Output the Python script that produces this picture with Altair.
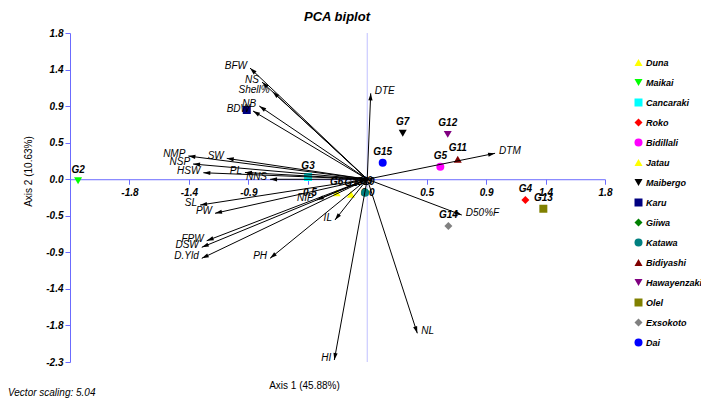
import math
import altair as alt
import pandas as pd

# ---------------- data ----------------
geno_ids = ["G1", "G2", "G3", "G4", "G5", "G6", "G7", "G8", "G9", "G10",
            "G11", "G12", "G13", "G14", "G15"]
geno_names = ["Duna", "Maikai", "Cancaraki", "Roko", "Bidillali", "Jatau",
              "Maibergo", "Karu", "Giiwa", "Katawa", "Bidiyashi",
              "Hawayenzaki", "Olel", "Exsokoto", "Dai"]
geno_x = [-0.125, -2.223, -0.455, 1.216, 0.562, -0.235, 0.273, -0.926,
          -0.010, -0.017, 0.696, 0.619, 1.354, 0.624, 0.119]
geno_y = [-0.189, -0.020, 0.028, -0.260, 0.156, -0.169, 0.574, 0.865,
          -0.160, -0.169, 0.249, 0.561, -0.369, -0.585, 0.206]
geno_colors = ["#FFFF00", "#00FF00", "#00FFFF", "#FF0000", "#FF00FF",
               "#FFFF00", "#000000", "#000080", "#008000", "#008080",
               "#800000", "#800080", "#808000", "#808080", "#0000FF"]
geno_shapes = ["triangle-up", "triangle-down", "square", "diamond", "circle",
               "triangle-up", "triangle-down", "square", "diamond", "circle",
               "triangle-up", "triangle-down", "square", "diamond", "circle"]
# labels hidden under the variable labels in the reference
hidden_geno_labels = ["G8"]

var_names = ["BFW", "NS", "Shell%", "NB", "BDW", "NMP", "SW", "NSP", "HSW",
             "PL", "NNS", "NIP", "SL", "PW", "FPW", "DSW", "D.Yld", "IL",
             "PH", "DTE", "DTM", "D50%F", "HI", "NL"]
var_x = [-0.901, -0.809, -0.727, -0.830, -0.878, -1.375, -1.080, -1.339,
         -1.260, -0.940, -0.747, -0.388, -1.285, -1.170, -1.234, -1.272,
         -1.272, -0.248, -0.747, 0.027, 0.983, 0.727, -0.253, 0.385]
var_y = [1.390, 1.215, 1.094, 0.915, 0.853, 0.290, 0.261, 0.190, 0.081,
         0.084, -0.001, -0.260, -0.323, -0.426, -0.769, -0.851, -0.989,
         -0.510, -0.989, 1.074, 0.324, -0.448, -2.260, -1.926]

tick_values = [-2.285, -1.828, -1.371, -0.914, -0.457, 0.0, 0.457, 0.914,
               1.371, 1.828]
axis1_title = "Axis 1 (45.88%)"
axis2_title = "Axis 2 (10.63%)"
chart_title = "PCA biplot"
vector_scaling = "Vector scaling: 5.04"

# ---------------- layout ----------------
W, H = 535, 329
dmin, dmax = tick_values[0], tick_values[-1]
kx = W / (dmax - dmin)
ky = H / (dmax - dmin)
FONT = "Liberation Sans"
AXIS_BLUE = "#6b6bff"

geno = pd.DataFrame({"id": geno_ids, "name": geno_names,
                     "x": geno_x, "y": geno_y})
geno["showlab"] = [0 if g in hidden_geno_labels else 1 for g in geno_ids]
vec = pd.DataFrame({"var": var_names, "x": var_x, "y": var_y})
vec["ox"] = 0.0
vec["oy"] = 0.0
vec["ang"] = [math.degrees(math.atan2(a * kx, b * ky)) % 360
              for a, b in zip(var_x, var_y)]

label_expr = "(datum.value < 0 ? '-' : '') + format(abs(datum.value), '.1f')"

xscale = alt.Scale(domain=[dmin, dmax], nice=False, zero=False)
yscale = alt.Scale(domain=[dmin, dmax], nice=False, zero=False)

zero_px_from_bottom = H - dmax * ky

xaxis = alt.Axis(values=tick_values[1:], labelExpr=label_expr,
                 orient="bottom", offset=-zero_px_from_bottom,
                 domainColor=AXIS_BLUE, tickColor=AXIS_BLUE, tickSize=5,
                 labelFont=FONT, labelFontSize=10, labelFontWeight="bold",
                 labelFontStyle="italic", labelColor="black", labelPadding=3,
                 labelFlush=False, labelOverlap=False, grid=False,
                 title=axis1_title, titleFont=FONT, titleFontSize=10,
                 titleFontWeight="normal", titleColor="black",
                 titleX=234, titleY=206, titleBaseline="middle",
                 titleAlign="center")
yaxis = alt.Axis(values=tick_values, labelExpr=label_expr,
                 domainColor=AXIS_BLUE, tickColor=AXIS_BLUE, tickSize=5,
                 labelFont=FONT, labelFontSize=10, labelFontWeight="bold",
                 labelFontStyle="italic", labelColor="black", labelPadding=2,
                 labelFlush=False, labelOverlap=False, grid=False,
                 title=axis2_title, titleFont=FONT, titleFontSize=10,
                 titleFontWeight="normal", titleColor="black",
                 titleX=-42, titleY=138, titleBaseline="middle",
                 titleAlign="center")


def X(f):
    return alt.X(f"{f}:Q", scale=xscale, axis=xaxis)


def Y(f):
    return alt.Y(f"{f}:Q", scale=yscale, axis=yaxis)


zero_line = alt.Chart(pd.DataFrame({"z": [0.0]})).mark_rule(
    color="#c0c0ff", strokeWidth=1).encode(x=X("z"))

leg = alt.Legend(title=None, orient="none", legendX=564, legendY=25,
                 symbolSize=64, symbolStrokeWidth=0, labelFont=FONT,
                 labelFontSize=9, labelFontWeight="bold",
                 labelFontStyle="italic", labelColor="black",
                 rowPadding=10, labelOffset=3, padding=0, labelLimit=0)

points = alt.Chart(geno).mark_point(filled=True, size=64, opacity=1).encode(
    x=X("x"), y=Y("y"),
    color=alt.Color("name:N", scale=alt.Scale(domain=geno_names,
                                              range=geno_colors), legend=leg),
    shape=alt.Shape("name:N", scale=alt.Scale(domain=geno_names,
                                              range=geno_shapes), legend=leg),
)

shafts = alt.Chart(vec).mark_rule(color="black", strokeWidth=1).encode(
    x=X("ox"), y=Y("oy"), x2=alt.X2("x"), y2=alt.Y2("y"))

HEAD = "M0,0L0.3,1L-0.3,1Z"
heads = alt.Chart(vec).mark_point(shape=HEAD, filled=True, size=196,
                                  color="black", opacity=1).encode(
    x=X("x"), y=Y("y"), angle=alt.Angle("ang:Q", scale=None))

vlab_left = alt.Chart(vec).transform_filter("datum.x < 0").mark_text(
    font=FONT, fontSize=10, fontStyle="italic", align="right",
    baseline="middle", dx=-3, dy=-2, color="black").encode(
    x=X("x"), y=Y("y"), text="var:N")
vlab_right = alt.Chart(vec).transform_filter("datum.x >= 0").mark_text(
    font=FONT, fontSize=10, fontStyle="italic", align="left",
    baseline="middle", dx=4, dy=-2, color="black").encode(
    x=X("x"), y=Y("y"), text="var:N")

glab = alt.Chart(geno).transform_filter("datum.showlab == 1").mark_text(
    font=FONT, fontSize=10, fontStyle="italic", fontWeight="bold",
    baseline="middle", dy=-11, color="black").encode(
    x=X("x"), y=Y("y"), text="id:N")

title_txt = alt.Chart(pd.DataFrame({"t": [chart_title]})).mark_text(
    font=FONT, fontSize=13, fontWeight="bold", fontStyle="italic",
    align="center", baseline="middle", color="black").encode(
    x=alt.value(267), y=alt.value(-16), text="t:N")

vs_txt = alt.Chart(pd.DataFrame({"t": [vector_scaling]})).mark_text(
    font=FONT, fontSize=10, fontStyle="italic", align="left",
    baseline="middle", color="black").encode(
    x=alt.value(-62), y=alt.value(360), text="t:N")

chart = alt.layer(zero_line, points, shafts, heads, vlab_left, vlab_right,
                  glab, title_txt, vs_txt).properties(
    width=W, height=H,
    padding={"left": 62, "top": 25, "right": 96, "bottom": 36},
    autosize=alt.AutoSizeParams(type="none"),
).configure(font=FONT).configure_view(strokeWidth=0)

chart.save("out.html", embed_options={"renderer": "svg", "actions": False})
